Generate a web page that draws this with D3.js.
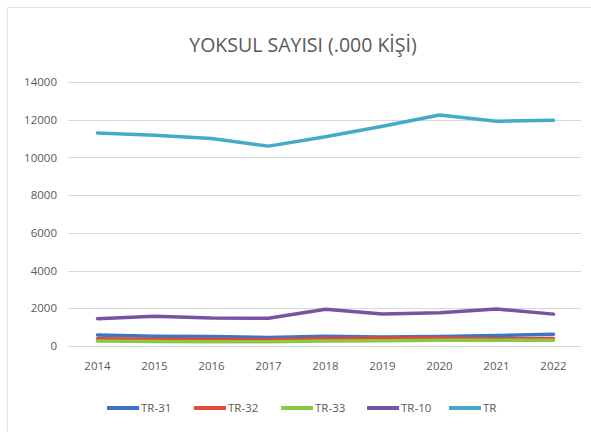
<!DOCTYPE html>
<html>
<head>
<meta charset="utf-8">
<script src="https://cdn.jsdelivr.net/npm/d3@7"></script>
<style>
  body { margin: 0; background: #fff; }
  svg { display: block; font-family: 'Open Sans', sans-serif; }
</style>
</head>
<body>
<svg id="chart" width="591" height="432"></svg>
<script>
const years = ['2014', '2015', '2016', '2017', '2018', '2019', '2020', '2021', '2022'];
const yTicks = [0, 2000, 4000, 6000, 8000, 10000, 12000, 14000];
const seriesNames = ['TR-31', 'TR-32', 'TR-33', 'TR-10', 'TR'];
const tr31 = [580, 520, 500, 450, 520, 480, 500, 560, 620];
const tr32 = [380, 360, 350, 330, 400, 430, 420, 380, 400];
const tr33 = [260, 240, 230, 220, 260, 280, 300, 300, 310];
const tr10 = [1450, 1580, 1480, 1470, 1950, 1700, 1760, 1960, 1690];
const tr = [11300, 11180, 11000, 10600, 11100, 11650, 12250, 11920, 11970];
const colors = ['#3f74c2', '#dd4a3c', '#8dc641', '#7b52a3', '#45a9c8'];

const series = [tr31, tr32, tr33, tr10, tr].map((values, i) => ({
  name: seriesNames[i],
  color: colors[i],
  values: values
}));

const svg = d3.select('#chart');

// chart frame
svg.append('rect')
  .attr('x', 7.5)
  .attr('y', 7.5)
  .attr('width', 600)
  .attr('height', 440)
  .style('fill', 'none')
  .style('stroke', '#e3e3e3');

const x = d3.scaleBand().domain(years).range([69, 582]);
const y = d3.scaleLinear().domain([0, 14000]).range([346, 82]);

// gridlines
svg.append('g')
  .selectAll('line')
  .data(yTicks)
  .join('line')
  .attr('x1', 68)
  .attr('x2', 581)
  .attr('y1', d => Math.round(y(d)) + 0.5)
  .attr('y2', d => Math.round(y(d)) + 0.5)
  .style('stroke', '#d9d9d9')
  .style('stroke-width', 1);

const yAxis = svg.append('g')
  .attr('transform', 'translate(57,0)')
  .call(d3.axisLeft(y).tickValues(yTicks).tickSize(0).tickPadding(0).tickFormat(d3.format('d')));
yAxis.select('.domain').remove();
yAxis.selectAll('text')
  .style('font-size', '11.5px')
  .style('fill', '#595959')
  .style('font-family', "'Open Sans', sans-serif");

const xAxis = svg.append('g')
  .attr('transform', 'translate(0,346)')
  .call(d3.axisBottom(x).tickSize(0).tickPadding(16));
xAxis.select('.domain').remove();
xAxis.selectAll('text')
  .style('font-size', '11.5px')
  .style('fill', '#595959')
  .style('font-family', "'Open Sans', sans-serif");

const line = d3.line()
  .x((d, i) => x(years[i]) + x.bandwidth() / 2)
  .y(d => y(d));

svg.append('g')
  .selectAll('path')
  .data(series)
  .join('path')
  .attr('d', d => line(d.values))
  .style('fill', 'none')
  .style('stroke', d => d.color)
  .style('stroke-width', 3.5)
  .style('stroke-linejoin', 'round')
  .style('stroke-linecap', 'round');

// title
svg.append('text')
  .attr('x', 303)
  .attr('y', 52)
  .attr('text-anchor', 'middle')
  .style('font-size', '19.5px')
  .style('fill', '#595959')
  .text('YOKSUL SAYISI (.000 KİŞİ)');

// legend
const legendX = [107, 194, 281, 367, 449];
const legend = svg.append('g')
  .selectAll('g')
  .data(series)
  .join('g')
  .attr('transform', (d, i) => `translate(${legendX[i]},408)`);

legend.append('line')
  .attr('x1', 0)
  .attr('x2', 32)
  .style('stroke', d => d.color)
  .style('stroke-width', 4);

legend.append('text')
  .attr('x', 34)
  .attr('y', 4)
  .style('font-size', '11.5px')
  .style('fill', '#595959')
  .text(d => d.name);
</script>
</body>
</html>
